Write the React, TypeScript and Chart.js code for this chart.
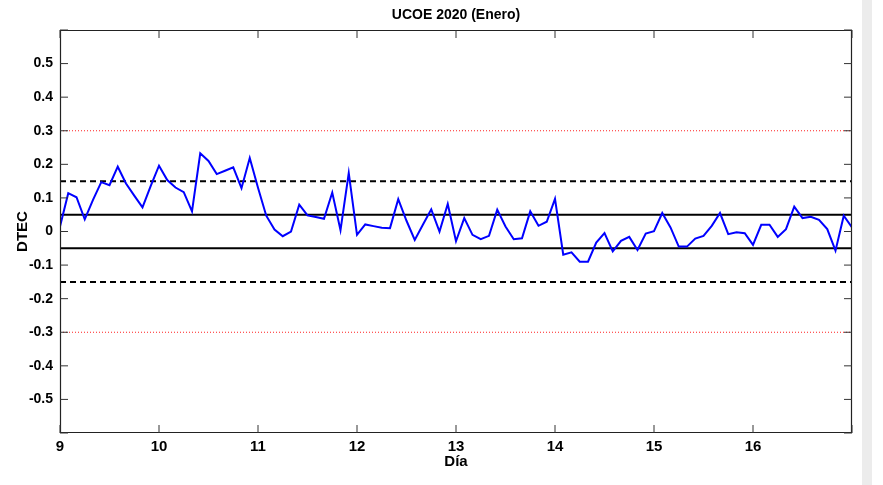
import { useEffect, useRef } from 'react';
import { Chart, registerables } from 'chart.js';

Chart.register(...registerables);

// ---- data ----
const TITLE = 'UCOE 2020 (Enero)';
const X_LABEL = 'Día';
const Y_LABEL = 'DTEC';
const firstDay = 9;
const lastDay = 17;
const samplesPerDay = 12; // one sample every 2 hours
const dtec = [
  0.015, 0.114, 0.102, 0.036, 0.094, 0.147, 0.138, 0.193, 0.143, 0.107, 0.072, 0.136,
  0.196, 0.153, 0.131, 0.117, 0.060, 0.233, 0.210, 0.171, 0.181, 0.191, 0.129, 0.219,
  0.130, 0.047, 0.006, -0.014, 0.000, 0.080, 0.048, 0.043, 0.038, 0.116, 0.004, 0.174,
  -0.010, 0.021, 0.016, 0.011, 0.010, 0.096, 0.032, -0.025, 0.021, 0.066, 0.000, 0.082,
  -0.029, 0.040, -0.010, -0.023, -0.013, 0.065, 0.015, -0.023, -0.020, 0.060, 0.017, 0.029,
  0.097, -0.069, -0.062, -0.090, -0.090, -0.033, -0.005, -0.059, -0.028, -0.016, -0.055, -0.006,
  0.001, 0.055, 0.012, -0.045, -0.045, -0.021, -0.013, 0.017, 0.055, -0.008, -0.002, -0.005,
  -0.040, 0.020, 0.020, -0.016, 0.007, 0.074, 0.040, 0.044, 0.035, 0.007, -0.057, 0.047,
  0.012,
];
const xTickLabels = [9, 10, 11, 12, 13, 14, 15, 16];
const yTickValues = [-0.6, -0.5, -0.4, -0.3, -0.2, -0.1, 0, 0.1, 0.2, 0.3, 0.4, 0.5, 0.6];
const yMin = -0.6;
const yMax = 0.6;
const yLabelLimit = 0.5;
const innerBand = [-0.05, 0.05];
const middleBand = [-0.15, 0.15];
const outerBand = [-0.3, 0.3];

const FONT = "'Liberation Sans', Arial, sans-serif";

const framePlugin = {
  id: 'matlabFrame',
  afterDraw(chart: any) {
    const { ctx, chartArea } = chart;
    const { left, right, top, bottom } = chartArea;
    const xs = chart.scales.x;
    const ys = chart.scales.y;
    ctx.save();
    ctx.strokeStyle = '#222222';
    ctx.lineWidth = 1.2;
    ctx.setLineDash([]);
    ctx.beginPath();
    ctx.rect(left + 0.5, top + 0.5, right - left - 1, bottom - top - 1);
    ctx.stroke();
    const tl = 8;
    ctx.lineWidth = 1;
    ctx.strokeStyle = '#333333';
    ctx.beginPath();
    [...xTickLabels, lastDay].forEach((d) => {
      const px = xs.getPixelForValue(d);
      ctx.moveTo(px, bottom);
      ctx.lineTo(px, bottom - tl);
      ctx.moveTo(px, top);
      ctx.lineTo(px, top + tl);
    });
    yTickValues.forEach((v) => {
      const py = ys.getPixelForValue(v);
      ctx.moveTo(left, py);
      ctx.lineTo(left + tl, py);
      ctx.moveTo(right, py);
      ctx.lineTo(right - tl, py);
    });
    ctx.stroke();
    ctx.restore();
  },
};

function hLine(v: number) {
  return [
    { x: firstDay, y: v },
    { x: lastDay, y: v },
  ];
}

export default function App() {
  const ref = useRef<HTMLCanvasElement | null>(null);

  useEffect(() => {
    if (!ref.current) return;
    const points = dtec.map((v, i) => ({ x: firstDay + i / samplesPerDay, y: v }));
    const refSets: any[] = [];
    outerBand.forEach((v) =>
      refSets.push({
        data: hLine(v),
        borderColor: '#ff2020',
        borderWidth: 1,
        borderDash: [1, 2],
        pointRadius: 0,
        order: 3,
      })
    );
    middleBand.forEach((v) =>
      refSets.push({
        data: hLine(v),
        borderColor: '#000000',
        borderWidth: 2,
        borderDash: [6, 4],
        pointRadius: 0,
        order: 2,
      })
    );
    innerBand.forEach((v) =>
      refSets.push({
        data: hLine(v),
        borderColor: '#000000',
        borderWidth: 2,
        pointRadius: 0,
        order: 1,
      })
    );

    const chart = new Chart(ref.current, {
      type: 'line',
      data: {
        datasets: [
          {
            data: points,
            borderColor: '#0000ff',
            borderWidth: 2,
            pointRadius: 0,
            tension: 0,
            order: 0,
          },
          ...refSets,
        ],
      },
      plugins: [framePlugin],
      options: {
        animation: false,
        responsive: false,
        parsing: false as any,
        layout: { padding: { left: 0, right: 31, top: 0, bottom: 0 } },
        plugins: {
          legend: { display: false },
          tooltip: { enabled: false },
          title: {
            display: true,
            fullSize: false,
            text: TITLE,
            color: '#000',
            font: { family: FONT, size: 14, weight: 'bold', lineHeight: 1.2 },
            padding: { top: 7, bottom: 6.2 },
          },
        },
        scales: {
          x: {
            type: 'linear',
            min: firstDay,
            max: lastDay,
            afterFit: (s: any) => {
              s.height = 52;
            },
            afterBuildTicks: (s: any) => {
              s.ticks = [...xTickLabels, lastDay].map((v) => ({ value: v }));
            },
            grid: { display: false, drawTicks: false },
            border: { display: false },
            ticks: {
              padding: 5,
              color: '#000',
              font: { family: FONT, size: 15, weight: 'bold' },
              maxRotation: 0,
              callback: (v: any) => (xTickLabels.includes(Number(v)) ? String(v) : ''),
            },
            title: {
              display: true,
              text: X_LABEL,
              color: '#000',
              font: { family: FONT, size: 15, weight: 'bold' },
              padding: { top: 0, bottom: 14 },
            },
          },
          y: {
            type: 'linear',
            min: yMin,
            max: yMax,
            afterFit: (s: any) => {
              s.width = 60;
            },
            afterBuildTicks: (s: any) => {
              s.ticks = yTickValues.map((v) => ({ value: v }));
            },
            grid: { display: false, drawTicks: false },
            border: { display: false },
            ticks: {
              padding: 7,
              color: '#000',
              font: { family: FONT, size: 14, weight: 'bold' },
              callback: (v: any) => {
                const r = Math.round(Number(v) * 10) / 10;
                if (Math.abs(r) > yLabelLimit + 1e-9) return '';
                return r === 0 ? '0' : String(r);
              },
            },
            title: {
              display: true,
              text: Y_LABEL,
              color: '#000',
              font: { family: FONT, size: 15, weight: 'bold' },
              padding: { top: 14, bottom: 0 },
            },
          },
        },
      } as any,
    });
    return () => chart.destroy();
  }, []);

  return (
    <div style={{ position: 'absolute', left: 0, top: 0, width: 883, height: 485, background: '#fff' }}>
      <canvas ref={ref} width={883} height={485} style={{ display: 'block' }} />
      <div style={{ position: 'absolute', left: 862, top: 0, width: 10, height: 485, background: '#ececec' }} />
    </div>
  );
}
